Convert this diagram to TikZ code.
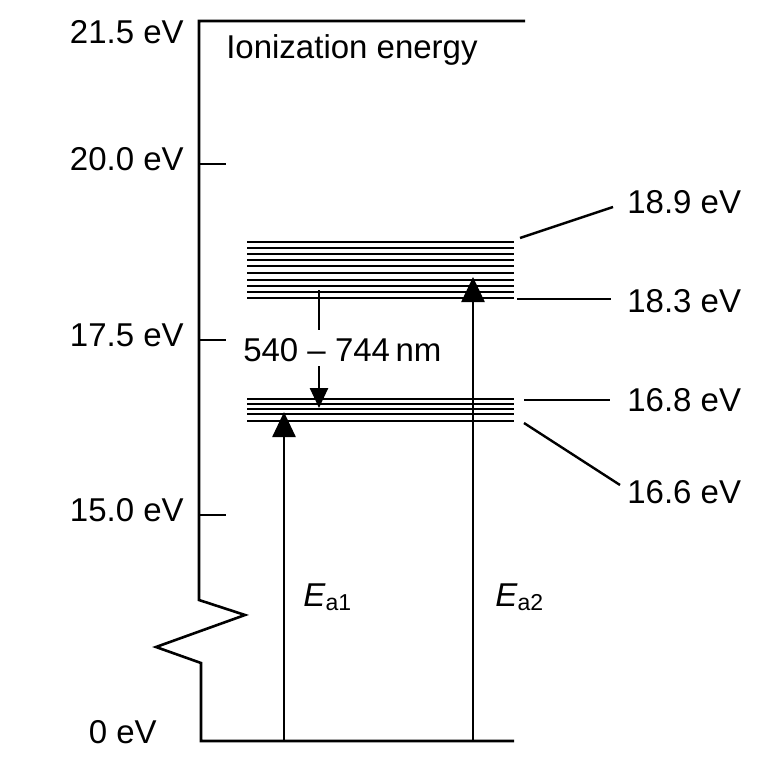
\documentclass[tikz,border=0pt]{standalone}
\usepackage{fontspec}
\setmainfont{Liberation Sans}
\usetikzlibrary{arrows.meta}
\begin{document}
\begin{tikzpicture}[x=1pt,y=-1pt,line width=2.6pt,
  lbl/.style={font=\fontsize{33}{38}\selectfont,inner sep=0pt},
  lvl/.style={line width=2.4pt},
  conn/.style={line width=2.4pt},
  bigarrow/.style={-{Triangle[length=25pt,width=23pt]},line width=2.6pt},
  smallarrow/.style={-{Triangle[length=20pt,width=18pt]},line width=2.6pt}]
\useasboundingbox (0,0) rectangle (782,760);
% axis frame
\draw[line join=miter] (525,21) -- (199,21) -- (199,600) -- (245,615) -- (156,647) -- (201,663) -- (201,741) -- (514,741);
% ticks
\foreach \yy in {164,340,515} \draw (199,\yy) -- (226,\yy);
% axis labels
\node[lbl,anchor=base east] (l215) at (185,44) {21.5 eV};
\node[lbl,anchor=base east] (l200) at (185,170) {20.0 eV};
\node[lbl,anchor=base east] (l175) at (185,346) {17.5 eV};
\node[lbl,anchor=base east] (l150) at (185,521) {15.0 eV};
\node[lbl,anchor=base east] (l0) at (158,743) {0 eV};
\node[lbl,anchor=base west] (ion) at (225,59) {Ionization energy};
% upper band
\foreach \yy in {242,248,254,260,266,273,280,286,292,298}
  \draw[lvl] (247,\yy) -- (514,\yy);
% lower band
\foreach \yy in {399,404,409,414,421}
  \draw[lvl] (247,\yy) -- (514,\yy);
% excitation arrows
\coordinate (a1s) at (284,741);
\coordinate (a1e) at (284,412);
\coordinate (a2s) at (473,741);
\coordinate (a2e) at (473,277);
\draw[bigarrow] (a1s) -- (a1e);
\draw[bigarrow] (a2s) -- (a2e);
\node[lbl,anchor=base west] (ea1) at (302,606) {\textit{E}\raisebox{-4pt}{\fontsize{23}{23}\selectfont a1}};
\node[lbl,anchor=base west] (ea2) at (494,606) {\textit{E}\raisebox{-4pt}{\fontsize{23}{23}\selectfont a2}};
% transition arrow
\coordinate (t1) at (319,290);
\coordinate (t2) at (319,330);
\coordinate (t3) at (319,366);
\coordinate (t4) at (319,408);
\node[lbl,anchor=base west] (nm) at (242,361) {540 – 744\,nm};
\draw (t1) -- (t2);
\draw[smallarrow] (t3) -- (t4);
% level labels
\node[lbl,anchor=base west] (e189) at (626,213) {18.9 eV};
\node[lbl,anchor=base west] (e183) at (626,312) {18.3 eV};
\node[lbl,anchor=base west] (e168) at (626,411) {16.8 eV};
\node[lbl,anchor=base west] (e166) at (626,503) {16.6 eV};
\coordinate (c189a) at (520,238);
\coordinate (c189b) at (613,207);
\coordinate (c183a) at (517,299);
\coordinate (c183b) at (611,299);
\coordinate (c168a) at (524,400);
\coordinate (c168b) at (610,400);
\coordinate (c166a) at (524,423);
\coordinate (c166b) at (620,485);
\draw[conn] (c189a) -- (c189b);
\draw[conn] (c183a) -- (c183b);
\draw[conn] (c168a) -- (c168b);
\draw[conn] (c166a) -- (c166b);
\end{tikzpicture}
\end{document}
